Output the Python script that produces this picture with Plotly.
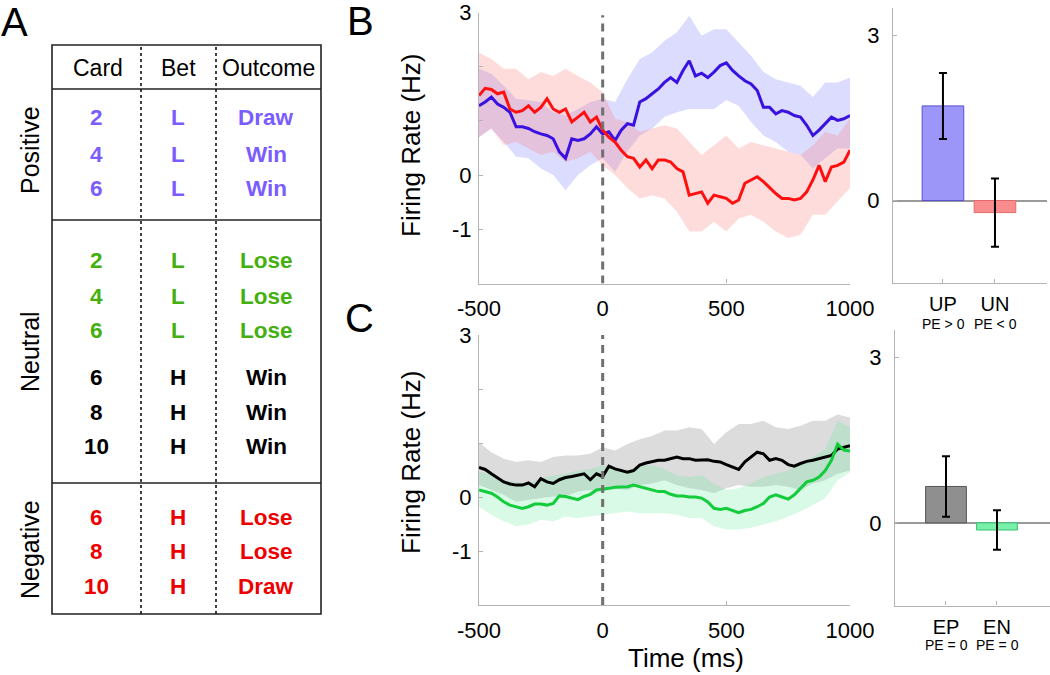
import plotly.graph_objects as go

W, H = 1050, 675
FONT = "Liberation Sans, Arial, Helvetica, sans-serif"

# ---------------- DATA ----------------
t_line = list(range(-500, 1001, 25))
t_band = list(range(-500, 1001, 50))
x_ticks = [-500, 0, 500, 1000]
x_tick_labels = ["-500", "0", "500", "1000"]

# Panel B
up_mean = [1.28, 1.35, 1.44, 1.31, 1.25, 1.16, 0.89, 0.89, 0.86, 0.80, 0.76, 0.73, 0.67, 0.43, 0.31,
           0.67, 0.64, 0.67, 0.76, 0.89, 0.76, 0.80, 0.64, 0.83, 0.95, 0.92, 1.35, 1.41, 1.50, 1.59,
           1.71, 1.80, 1.71, 1.93, 2.11, 1.83, 1.88, 1.80, 1.90, 2.02, 2.07, 1.93, 1.83, 1.74, 1.68,
           1.56, 1.25, 1.25, 1.13, 1.19, 1.16, 1.10, 1.07, 0.92, 0.73, 0.83, 0.95, 1.07, 1.01, 1.04, 1.10]
un_mean = [1.47, 1.60, 1.58, 1.50, 1.53, 1.22, 1.16, 1.19, 1.28, 1.16, 1.25, 1.41, 1.22, 1.16, 1.22,
           0.98, 1.07, 1.16, 0.98, 1.07, 0.83, 0.70, 0.61, 0.46, 0.34, 0.31, 0.15, 0.28, 0.12, 0.28,
           0.28, 0.24, 0.12, 0.06, -0.37, -0.34, -0.31, -0.52, -0.37, -0.40, -0.43, -0.52, -0.46, -0.15, -0.09,
           -0.03, -0.12, -0.24, -0.34, -0.43, -0.43, -0.46, -0.43, -0.31, -0.09, 0.18, -0.12, 0.15, 0.18, 0.24, 0.46]
up_hi = [1.96, 1.87, 1.65, 1.41, 1.38, 1.35, 1.16, 1.10, 1.22, 1.35, 1.41, 1.35, 1.77, 2.14, 2.26, 2.48,
         2.63, 2.94, 2.57, 2.69, 2.69, 2.45, 2.20, 1.90, 1.77, 1.71, 1.65, 1.44, 1.71, 1.71, 1.80]
up_lo = [0.70, 0.86, 0.61, 0.34, 0.31, 0.12, 0.00, -0.28, 0.00, 0.18, 0.31, 0.06, 0.43, 0.73, 0.86, 1.07,
         1.16, 1.22, 1.22, 1.22, 1.38, 1.28, 0.98, 0.73, 0.61, 0.43, 0.37, 0.12, 0.31, 0.49, 0.49]
un_hi = [2.26, 2.14, 1.96, 1.96, 1.77, 1.90, 1.83, 1.96, 1.83, 1.71, 1.53, 1.04, 0.98, 0.80, 0.86, 0.92,
         0.86, 0.61, 0.37, 0.55, 0.73, 0.49, 0.61, 0.55, 0.49, 0.43, 0.37, 0.55, 0.80, 0.73, 1.04]
un_lo = [0.70, 0.86, 0.55, 0.61, 0.49, 0.37, 0.43, 0.24, 0.31, 0.43, 0.18, 0.00, -0.24, -0.43, -0.37, -0.43,
         -0.67, -1.04, -1.04, -0.86, -1.04, -0.80, -0.73, -0.86, -1.04, -1.16, -1.10, -0.73, -0.73, -0.49, -0.24]

# Panel C
ep_mean = [0.55, 0.51, 0.43, 0.36, 0.28, 0.24, 0.22, 0.22, 0.26, 0.19, 0.34, 0.28, 0.25, 0.32, 0.36,
           0.38, 0.40, 0.43, 0.32, 0.43, 0.38, 0.57, 0.52, 0.49, 0.46, 0.49, 0.59, 0.63, 0.65, 0.68,
           0.68, 0.71, 0.74, 0.71, 0.71, 0.68, 0.68, 0.69, 0.66, 0.65, 0.60, 0.55, 0.51, 0.65, 0.74,
           0.83, 0.80, 0.68, 0.71, 0.68, 0.60, 0.57, 0.62, 0.66, 0.68, 0.71, 0.74, 0.77, 0.89, 0.92, 0.95]
en_mean = [0.13, 0.10, 0.07, 0.00, -0.09, -0.15, -0.18, -0.21, -0.18, -0.13, -0.13, -0.15, -0.12, 0.02, 0.01,
           -0.02, -0.05, 0.01, 0.05, 0.13, 0.14, 0.16, 0.18, 0.19, 0.19, 0.22, 0.19, 0.16, 0.14, 0.10,
           0.10, 0.05, 0.02, 0.02, 0.00, 0.00, -0.02, -0.09, -0.21, -0.23, -0.21, -0.25, -0.29, -0.25, -0.23,
           -0.18, -0.12, 0.00, 0.04, 0.00, -0.04, 0.04, 0.16, 0.28, 0.31, 0.37, 0.49, 0.68, 0.98, 0.87, 0.85]
ep_hi = [1.01, 0.83, 0.71, 0.65, 0.68, 0.65, 0.74, 0.77, 0.77, 0.80, 0.92, 0.86, 0.98, 1.07, 1.13, 1.23,
         1.23, 1.29, 1.26, 0.98, 1.20, 1.35, 1.35, 1.41, 1.29, 1.26, 1.32, 1.41, 1.41, 1.53, 1.47]
ep_lo = [0.22, 0.13, 0.04, -0.09, -0.05, -0.02, 0.01, 0.01, 0.10, 0.13, 0.10, 0.16, 0.13, 0.22, 0.25, 0.31,
         0.22, 0.16, 0.13, 0.07, 0.16, 0.22, 0.19, 0.19, 0.22, 0.19, 0.13, 0.25, 0.31, 0.43, 0.49]
en_hi = [0.46, 0.43, 0.31, 0.28, 0.25, 0.34, 0.40, 0.43, 0.49, 0.52, 0.59, 0.52, 0.49, 0.59, 0.59, 0.52,
         0.40, 0.37, 0.40, 0.25, 0.13, 0.16, 0.25, 0.37, 0.43, 0.49, 0.62, 0.74, 0.89, 1.41, 1.29]
en_lo = [-0.18, -0.33, -0.45, -0.54, -0.51, -0.42, -0.45, -0.36, -0.39, -0.36, -0.33, -0.30, -0.27, -0.30, -0.30, -0.30,
         -0.33, -0.39, -0.39, -0.54, -0.60, -0.60, -0.57, -0.51, -0.45, -0.36, -0.27, -0.15, -0.02, 0.31, 0.46]

# Bar panels
bar_b_cats = ["UP", "UN"]
bar_b_sub = ["PE > 0", "PE < 0"]
bar_b_vals = [1.72, -0.22]
bar_b_err = [0.60, 0.62]
bar_c_cats = ["EP", "EN"]
bar_c_sub = ["PE = 0", "PE = 0"]
bar_c_vals = [0.66, -0.13]
bar_c_err = [0.55, 0.36]

# Table (panel A)
table_headers = ["Card", "Bet", "Outcome"]
table_groups = ["Positive", "Neutral", "Negative"]
cards = ["2", "4", "6", "2", "4", "6", "6", "8", "10", "6", "8", "10"]
bets = ["L", "L", "L", "L", "L", "L", "H", "H", "H", "H", "H", "H"]
outcomes = ["Draw", "Win", "Win", "Lose", "Lose", "Lose", "Win", "Win", "Win", "Lose", "Lose", "Draw"]
row_kind = ["pos", "pos", "pos", "neu_l", "neu_l", "neu_l", "neu_h", "neu_h", "neu_h", "neg", "neg", "neg"]

# ---------------- STYLE / LAYOUT ----------------
kind_color = {"pos": "#7a5cff", "neu_l": "#44b010", "neu_h": "#000000", "neg": "#ee0000"}
row_y_px = [118, 154, 188, 260, 296, 330, 377, 412, 446, 517, 551, 586]
col_x_px = [96, 178, 266]
group_y_px = [150, 352, 550]


def PX(x):
    return x / W


def PY(y):
    return 1 - y / H


fig = go.Figure()


def band(x, lo, hi, color, xa, ya):
    fig.add_trace(go.Scatter(x=list(x) + list(x)[::-1], y=list(hi) + list(lo)[::-1], fill="toself",
                             fillcolor=color, line=dict(width=0), mode="lines", hoverinfo="skip",
                             showlegend=False, xaxis=xa, yaxis=ya))


def line(x, y, color, xa, ya):
    fig.add_trace(go.Scatter(x=x, y=y, mode="lines", line=dict(color=color, width=3),
                             showlegend=False, xaxis=xa, yaxis=ya))


# Panel B lines
band(t_band, up_lo, up_hi, "rgba(130,130,255,0.28)", "x", "y")
band(t_band, un_lo, un_hi, "rgba(255,130,130,0.28)", "x", "y")
line(t_line, up_mean, "#3a12e0", "x", "y")
line(t_line, un_mean, "#ff1010", "x", "y")

# Panel C lines
band(t_band, ep_lo, ep_hi, "rgba(150,150,150,0.33)", "x3", "y3")
band(t_band, en_lo, en_hi, "rgba(90,235,150,0.24)", "x3", "y3")
line(t_line, ep_mean, "#000000", "x3", "y3")
line(t_line, en_mean, "#12cc3c", "x3", "y3")

# Bars
fig.add_trace(go.Bar(x=[1, 2], y=bar_b_vals, width=0.8,
                     marker=dict(color=["#9c96f8", "#f98c8c"], line=dict(color=["#5a4fd8", "#e46a6a"], width=1)),
                     error_y=dict(type="data", array=bar_b_err, color="black", thickness=2, width=4),
                     showlegend=False, xaxis="x2", yaxis="y2"))
fig.add_trace(go.Bar(x=[1, 2], y=bar_c_vals, width=0.8,
                     marker=dict(color=["#8f8f8f", "#78f0aa"], line=dict(color=["#555555", "#3cc070"], width=1)),
                     error_y=dict(type="data", array=bar_c_err, color="black", thickness=2, width=4),
                     showlegend=False, xaxis="x4", yaxis="y4"))

axcol = "#b4b4b4"
common = dict(showgrid=False, showline=True, linecolor=axcol, linewidth=1.2,
              ticks="inside", ticklen=4, tickcolor=axcol, automargin=False, ticklabeloverflow="allow")
tf = dict(family=FONT, size=22, color="black")

line_x = dict(range=[-500, 1000], tickvals=x_ticks, ticktext=x_tick_labels, ticklabelstandoff=5,
              tickfont=tf, zeroline=False, **common)
line_y = dict(range=[-2, 3], tickvals=[-1, 0, 1, 2, 3], ticktext=["-1", "0", "", "", "3"],
              ticklabelstandoff=2, tickfont=tf, zeroline=False, **common)
bar_y = dict(range=[-1.5, 3.5], tickvals=[0, 3], ticktext=["0", "3"], ticklabelstandoff=8,
             tickfont=tf, zeroline=True, zerolinecolor="#9a9a9a", zerolinewidth=1.5, **common)
bar_x = dict(tickvals=[1, 2], ticklabelstandoff=3, zeroline=False,
             tickfont=dict(family=FONT, size=20, color="black"), **common)

fig.update_layout(
    width=W, height=H, margin=dict(l=0, r=0, t=0, b=0, autoexpand=False),
    paper_bgcolor="white", plot_bgcolor="white",
    font=dict(family=FONT, color="black"),
    xaxis=dict(domain=[PX(479), PX(850)], anchor="y", **line_x),
    yaxis=dict(domain=[PY(283.5), PY(12.5)], anchor="x", **line_y),
    xaxis3=dict(domain=[PX(479), PX(850)], anchor="y3", **line_x),
    yaxis3=dict(domain=[PY(605), PY(335)], anchor="x3", **line_y),
    xaxis2=dict(domain=[PX(893), PX(1047)], anchor="y2", range=[0.04, 3.0], ticktext=bar_b_cats, **bar_x),
    yaxis2=dict(domain=[PY(283), PY(8)], anchor="x2", **bar_y),
    xaxis4=dict(domain=[PX(895), PX(1050)], anchor="y4", range=[0.0, 3.04], ticktext=bar_c_cats, **bar_x),
    yaxis4=dict(domain=[PY(605.5), PY(330)], anchor="x4", **bar_y),
)

shapes = []
# dashed zero lines in time plots
for xa, ya, top in [("x", "y", 2.95), ("x3", "y3", 3.0)]:
    shapes.append(dict(type="line", xref=xa, yref=ya, x0=0, x1=0, y0=-2, y1=top,
                       line=dict(color="#707070", width=3, dash="8px,6px")))

# Table frame
L, R, T, B = 52, 321, 45, 614
shapes.append(dict(type="rect", xref="paper", yref="paper", x0=PX(L), x1=PX(R), y0=PY(B), y1=PY(T),
                   line=dict(color="#222222", width=1.6)))
for yy in [89, 220, 483]:
    shapes.append(dict(type="line", xref="paper", yref="paper", x0=PX(L), x1=PX(R), y0=PY(yy), y1=PY(yy),
                       line=dict(color="#222222", width=1.6)))
for xx in [141, 216]:
    shapes.append(dict(type="line", xref="paper", yref="paper", x0=PX(xx), x1=PX(xx), y0=PY(B), y1=PY(T),
                       line=dict(color="#111111", width=1.6, dash="3px,3px")))
fig.update_layout(shapes=shapes)

ann = []


def text(x, y, s, size, color="black", bold=False, angle=0, xanchor="center"):
    if bold:
        s = f"<b>{s}</b>"
    ann.append(dict(x=PX(x), y=PY(y), xref="paper", yref="paper", text=s, showarrow=False,
                    font=dict(family=FONT, size=size, color=color), textangle=angle,
                    xanchor=xanchor, yanchor="middle"))


# panel letters
text(14, 22, "A", 40)
text(360, 21, "B", 40)
text(359, 318, "C", 40)

# table header
for cx, h in zip([98, 178, 268], table_headers):
    text(cx, 68, h, 23)
for gy, g in zip(group_y_px, table_groups):
    text(30, gy, g, 25, angle=-90)
for ry, c, b, o, k in zip(row_y_px, cards, bets, outcomes, row_kind):
    col = kind_color[k]
    text(col_x_px[0], ry, c, 22.5, col, True)
    text(col_x_px[1], ry, b, 22.5, col, True)
    text(col_x_px[2], ry, o, 22.5, col, True)

# bar sub-labels
for cx, s in zip([943, 995], bar_b_sub):
    text(cx, 324, s, 14)
for cx, s in zip([946, 997], bar_c_sub):
    text(cx, 645, s, 14)

# axis titles
text(411, 146, "Firing Rate (Hz)", 26, angle=-90)
text(411, 463, "Firing Rate (Hz)", 26, angle=-90)
text(686, 658, "Time (ms)", 26)

fig.update_layout(annotations=ann)
fig.write_html("out.html", config={"displayModeBar": False},
               post_script="document.body.style.margin='0px';document.body.style.overflow='hidden';")
